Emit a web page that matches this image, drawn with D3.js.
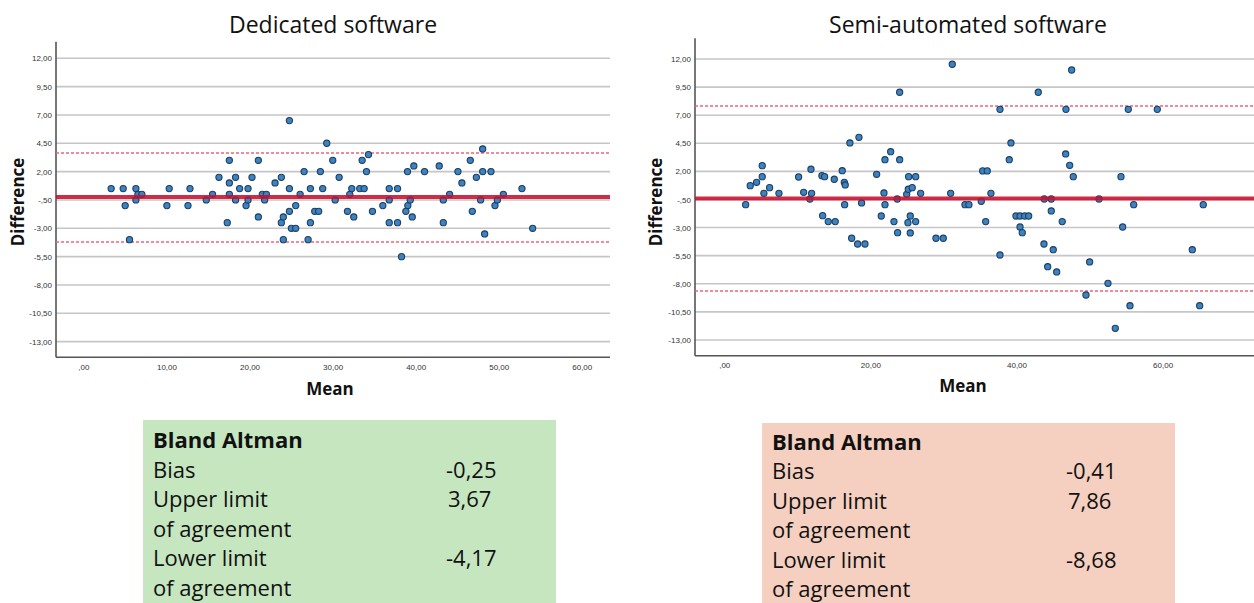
<!DOCTYPE html>
<html>
<head>
<meta charset="utf-8">
<script src="https://cdn.jsdelivr.net/npm/d3@7"></script>
<style>
  html, body { margin: 0; padding: 0; background: #fff; }
  svg { display: block; }
</style>
</head>
<body>
<div id="chart"></div>
<script>
// ---- data ----
const dedicatedMean = [3.34, 4.79, 5.03, 6.32, 6.32, 6.56, 7.04, 5.55, 10.05, 10.33, 12.59, 12.83, 14.79, 15.55,
  16.32, 17.32, 17.57, 17.57, 17.57, 18.32, 18.32, 18.81, 19.58, 19.82, 19.82, 20.30, 21.06, 21.06, 21.54, 21.82,
  22.03, 23.07, 23.83, 23.83, 24.07, 24.07, 24.80, 24.80, 24.80, 25.04, 25.56, 25.56, 26.09, 26.57, 27.33, 27.33,
  27.05, 27.85, 28.33, 28.53, 28.81, 29.30, 30.02, 30.31, 30.79, 31.79, 32.07, 32.31, 32.55, 33.27, 33.56, 33.80,
  34.08, 34.32, 34.80, 36.05, 36.82, 36.82, 36.82, 37.82, 37.82, 38.30, 38.82, 39.02, 39.06, 39.35, 39.59, 39.78,
  41.07, 42.84, 43.33, 43.33, 44.09, 45.09, 45.57, 46.58, 46.82, 47.31, 47.82, 48.07, 48.07, 48.31, 49.07, 49.55,
  49.84, 50.56, 52.80, 54.09];
const dedicatedDiff = [0.5, 0.5, -1, 0.5, -0.5, 0, 0, -4, -1, 0.5, -1, 0.5, -0.5, 0,
  1.5, -2.5, 3, 1, 0, 1.5, -0.5, 0.5, -1, 0.5, -0.5, 1.5, 3, -2, 0, -0.5,
  0, 1, 1.5, -2.5, -2, -4, 6.5, 0.5, -1.5, -3, -3, -1, 0, 2, 0.5, -2.5,
  -4, -1.5, -1.5, 2, 0.5, 4.5, 3, -0.5, 1.5, -1.5, 0, 0.5, -2, 0.5, 3, 0.5,
  2, 3.5, -1.5, -1, 0.5, -0.5, -2.5, 0.5, -2.5, -5.5, -1.5, 2, -1, -0.5, -2, 2.5,
  2, 2.5, -0.5, -2.5, 0, 2, 1, 3, -1.5, 1.5, -0.5, 4, 2, -3.5, 2, -1,
  -0.5, 0, 0.5, -3];

const semiMean = [2.93, 3.56, 4.43, 5.20, 5.20, 5.43, 6.21, 7.49, 10.18, 10.87, 11.73, 11.96, 11.87, 13.37,
  13.74, 15.06, 16.15, 16.43, 16.56, 16.48, 17.20, 18.44, 18.80, 13.47, 14.24, 15.19, 20.86, 21.49, 21.86, 22.00,
  22.00, 22.78, 23.23, 23.68, 24.01, 24.01, 24.97, 25.19, 25.73, 25.24, 26.20, 26.88, 25.14, 25.46, 26.20, 17.44,
  18.26, 19.26, 23.73, 25.46, 28.98, 29.98, 31.21, 47.55, 42.98, 37.74, 46.77, 55.30, 59.27, 39.24, 39.01, 46.73,
  47.28, 47.77, 54.30, 35.37, 36.00, 30.99, 36.50, 32.95, 33.49, 35.18, 43.80, 44.76, 51.29, 56.04, 65.56, 44.76,
  35.78, 46.26, 39.93, 40.48, 41.12, 41.67, 40.48, 54.53, 40.79, 37.74, 43.76, 45.03, 44.27, 45.50, 50.01, 49.51,
  52.52, 55.53, 53.52, 64.06, 65.07];
const semiDiff = [-0.96, 0.73, 1.03, 2.51, 1.53, 0.05, 0.55, 0.05, 1.5, 0.14, -0.46, 0.05, 2.19, 1.62,
  1.53, 1.3, 2.06, 1.03, 0.79, -0.96, 4.53, 5.03, -0.81, -1.94, -2.47, -2.47, 1.74, -1.97, 0.08, -0.96,
  3.04, 3.75, -2.47, -0.46, 9.04, 3.04, -0.04, 0.41, 0.55, 1.53, 1.53, 0.05, -2.56, -1.97, -2.47, -3.95,
  -4.46, -4.46, -3.45, -3.48, -3.95, -3.95, 11.53, 11.02, 9.04, 7.52, 7.52, 7.52, 7.52, 4.53, 3.04, 3.55,
  2.54, 1.53, 1.53, 2.04, 2.04, 0.05, 0.05, -0.96, -0.96, -0.66, -0.46, -0.46, -0.46, -0.96, -0.96, -1.52,
  -2.47, -2.47, -1.97, -1.97, -1.97, -1.97, -2.95, -2.95, -3.45, -5.44, -4.46, -4.97, -6.48, -6.95, -6.06, -9.0,
  -7.96, -9.95, -11.96, -4.97, -9.95];

const chartTitles = ["Dedicated software", "Semi-automated software"];
const yTicks = [12, 9.5, 7, 4.5, 2, -0.5, -3, -5.5, -8, -10.5, -13];
const xTicksLeft = [0, 10, 20, 30, 40, 50, 60];
const xTicksRight = [0, 20, 40, 60];

const statRows = ["Bias", "Upper limit", "of agreement", "Lower limit", "of agreement"];
const dedicatedStats = [-0.25, 3.67, -4.17];   // bias, upper, lower
const semiStats = [-0.41, 7.86, -8.68];

// ---- drawing ----
const W = 1254, H = 603;
const svg = d3.select('#chart').append('svg').attr('width', W).attr('height', H);

const commaLocale = d3.formatLocale({decimal: ",", thousands: ".", grouping: [3], currency: ["", ""], minus: "-"});
const fmt2 = commaLocale.format(".2f");
// SPSS style ticks drop the leading zero: ",00" "-,50"
const tickFmt = v => fmt2(v).replace(/^(-?)0,/, "$1,");

function drawPlot(opt) {
  const x = d3.scaleLinear().domain(opt.xDomain).range(opt.xRange);
  const y = d3.scaleLinear().domain(opt.yDomain).range(opt.yRange);
  const g = svg.append('g');
  const [x0, x1] = opt.xRange;
  const [yb, yt] = opt.yRange;

  // gridlines
  g.append('g').selectAll('line').data(yTicks).join('line')
    .attr('x1', x0).attr('x2', x1)
    .attr('y1', d => y(d)).attr('y2', d => y(d))
    .attr('stroke', '#c6c6c6').attr('stroke-width', 1.6);

  // y axis (no tick marks, labels only)
  const yAxis = g.append('g').attr('transform', `translate(${x0},0)`)
    .call(d3.axisLeft(y).tickValues(yTicks).tickFormat(tickFmt).tickSize(0).tickPadding(4));
  yAxis.select('.domain').remove();
  yAxis.selectAll('text').attr('font-family', 'Liberation Sans, Arial, sans-serif').attr('font-size', 8).attr('fill', '#333');

  const xAxis = g.append('g').attr('transform', `translate(0,${yb})`)
    .call(d3.axisBottom(x).tickValues(opt.xTicks).tickFormat(tickFmt).tickSize(0).tickPadding(7));
  xAxis.select('.domain').remove();
  xAxis.selectAll('text').attr('font-family', 'Liberation Sans, Arial, sans-serif').attr('font-size', 8).attr('fill', '#333');

  // axis lines
  g.append('line').attr('x1', x0).attr('x2', x0).attr('y1', yt).attr('y2', yb)
    .attr('stroke', '#555').attr('stroke-width', 1.6);
  g.append('line').attr('x1', x0).attr('x2', x1).attr('y1', yb).attr('y2', yb)
    .attr('stroke', '#555').attr('stroke-width', 1.6);

  // limits of agreement (dotted)
  g.append('g').attr('class', 'loa').selectAll('line').data(opt.stats.slice(1)).join('line')
    .attr('x1', x0).attr('x2', x1)
    .attr('y1', d => Math.round(y(d))).attr('y2', d => Math.round(y(d)))
    .style('stroke', '#ee6478').style('stroke-width', 1.6).style('stroke-dasharray', '3,2');

  // points
  g.append('g').selectAll('circle').data(opt.mean.map((m, i) => [m, opt.diff[i]])).join('circle')
    .attr('cx', d => x(d[0])).attr('cy', d => y(d[1])).attr('r', 3.1)
    .attr('fill', '#3a84c4').attr('stroke', '#1f3d5e').attr('stroke-width', 1.1);

  // bias line on top
  g.append('line').attr('x1', x0).attr('x2', x1)
    .attr('y1', y(opt.stats[0])).attr('y2', y(opt.stats[0]))
    .attr('stroke', '#c8102e').attr('stroke-width', 4).attr('opacity', 0.88);

  // titles
  svg.append('text').attr('x', opt.titleX).attr('y', 33).attr('text-anchor', 'middle')
    .attr('font-family', 'Open Sans, sans-serif').attr('font-size', 23).attr('fill', '#111')
    .text(opt.title);
  svg.append('text').attr('transform', `translate(${opt.diffX},202) rotate(-90)`)
    .attr('text-anchor', 'middle').attr('dominant-baseline', 'middle')
    .attr('font-family', 'Open Sans, sans-serif').attr('font-weight', 700).attr('font-size', 17).attr('fill', '#111')
    .text('Difference');
  svg.append('text').attr('x', opt.meanX).attr('y', opt.meanY).attr('text-anchor', 'middle')
    .attr('font-family', 'Open Sans, sans-serif').attr('font-weight', 700).attr('font-size', 17).attr('fill', '#111')
    .text('Mean');
}

drawPlot({
  title: chartTitles[0], titleX: 333, diffX: 19, meanX: 330, meanY: 395,
  xDomain: [-3.3, 63.4], xRange: [56, 610],
  yDomain: [-14.38, 13.46], yRange: [357.3, 41.7],
  xTicks: xTicksLeft, mean: dedicatedMean, diff: dedicatedDiff, stats: dedicatedStats
});
drawPlot({
  title: chartTitles[1], titleX: 968, diffX: 657, meanX: 963, meanY: 392,
  xDomain: [-4.0, 73.6], xRange: [695, 1262],
  yDomain: [-14.4, 13.84], yRange: [355.7, 38.3],
  xTicks: xTicksRight, mean: semiMean, diff: semiDiff, stats: semiStats
});

// Bland Altman tables
function drawTable(opt) {
  const g = svg.append('g');
  g.append('rect').attr('x', opt.x).attr('y', opt.y).attr('width', opt.w).attr('height', H - opt.y + 2)
    .attr('fill', opt.fill);
  const t = g.append('g').attr('font-family', 'Open Sans, sans-serif').attr('font-size', 22).attr('fill', '#111');
  t.append('text').attr('x', opt.x + 10).attr('y', opt.base).attr('font-weight', 700).text('Bland Altman');
  t.selectAll('text.row').data(statRows).join('text').attr('class', 'row')
    .attr('x', opt.x + 10).attr('y', (d, i) => opt.base + (i + 1) * opt.step).text(d => d);
  // values sit on the rows Bias, Upper limit, Lower limit
  const rowIdx = [0, 1, 3];
  t.selectAll('text.val').data(opt.stats).join('text').attr('class', 'val')
    .attr('x', d => opt.valX + (d < 0 ? 0 : 2))
    .attr('y', (d, i) => opt.base + (rowIdx[i] + 1) * opt.step)
    .text(d => fmt2(d));
}

drawTable({x: 143, y: 420, w: 413, base: 448, step: 29.5, valX: 446, fill: '#c6e6c0', stats: dedicatedStats});
drawTable({x: 762, y: 423, w: 413, base: 450, step: 29.4, valX: 1066, fill: '#f5d0c0', stats: semiStats});
</script>
</body>
</html>
